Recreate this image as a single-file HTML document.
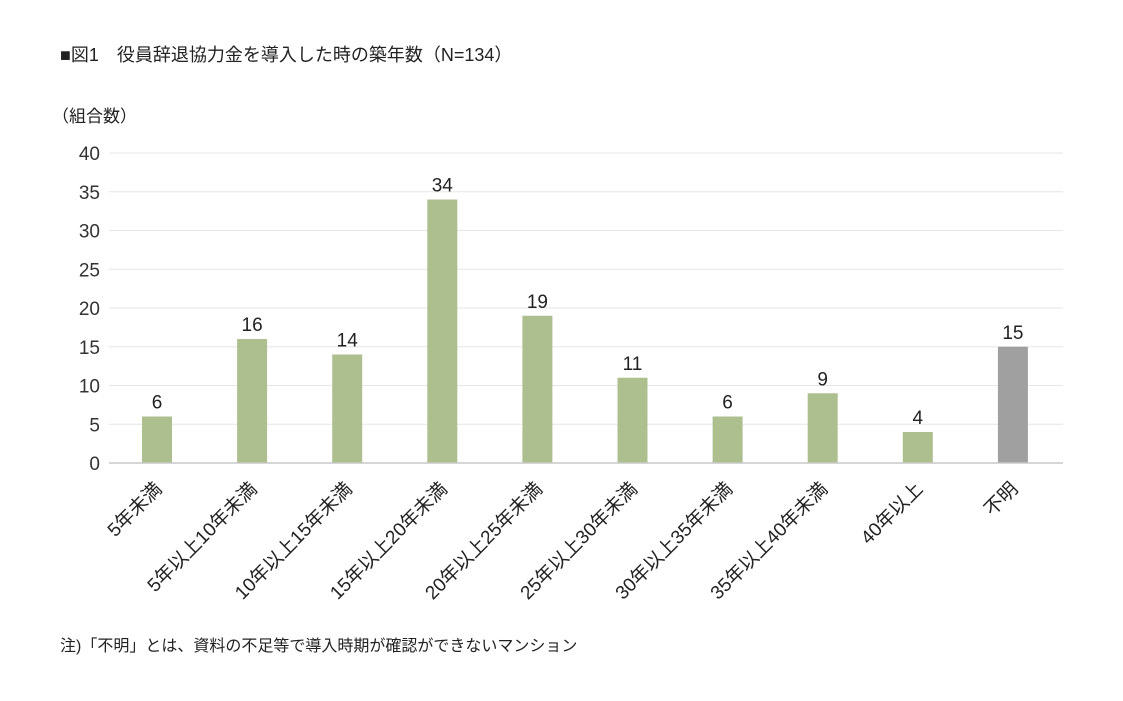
<!DOCTYPE html>
<html><head><meta charset="utf-8"><style>
body{margin:0;background:#fff;}
svg{display:block;font-family:"Liberation Sans","Noto Sans CJK JP",sans-serif;}
</style></head><body>
<svg id="chart" width="1123" height="701" viewBox="0 0 1123 701">
<text x="60" y="61" font-size="18" fill="#222">■図1　役員辞退協力金を導入した時の築年数（N=134）</text>
<text x="52" y="122" font-size="17" fill="#222">（組合数）</text>
<g id="grid"></g>
<g id="yticks"></g>
<g id="bars"></g>
<line x1="109" y1="463" x2="1063" y2="463" stroke="#c8c8c8" stroke-width="1.5"/>
<g id="xlabels"></g>
<text x="60" y="651" font-size="16" fill="#222">注)「不明」とは、資料の不足等で導入時期が確認ができないマンション</text>
</svg>
<script>
const categories=["5年未満","5年以上10年未満","10年以上15年未満","15年以上20年未満","20年以上25年未満","25年以上30年未満","30年以上35年未満","35年以上40年未満","40年以上","不明"];
const values=[6,16,14,34,19,11,6,9,4,15];
const yTicks=[0,5,10,15,20,25,30,35,40];
const NS="http://www.w3.org/2000/svg";
const y=v=>463-v*7.75;
const x=i=>157+i*95.1;
function mk(t,a,p){const e=document.createElementNS(NS,t);for(const k in a)e.setAttribute(k,a[k]);p.appendChild(e);return e;}
const g=document.getElementById('grid'),yt=document.getElementById('yticks'),b=document.getElementById('bars'),xl=document.getElementById('xlabels');
yTicks.forEach(v=>{
 if(v>0){const l=mk('line',{x1:109,x2:1063,y1:y(v),y2:y(v),stroke:'#e6e6e6','stroke-width':1},g);
 
 }
 const t=mk('text',{x:100,y:y(v)+7,'text-anchor':'end','font-size':19,fill:'#333'},yt);t.textContent=v;
 
 
});
values.forEach((v,i)=>{
 const r=mk('rect',{x:x(i)-15,y:y(v),width:30,height:v*7.75,fill:i==9?'#a0a0a0':'#adbf8f'},b);
 
 
 const t=mk('text',{x:x(i),y:y(v)-8,'text-anchor':'middle','font-size':19,fill:'#222'},b);t.textContent=v;
 
 
 const lx=x(i)+6,ly=490;
 const c=mk('text',{x:lx,y:ly,'text-anchor':'end','font-size':19,fill:'#222',transform:`rotate(-45 ${lx} ${ly})`},xl);c.textContent=categories[i];
 
 
});
</script>
</body></html>
